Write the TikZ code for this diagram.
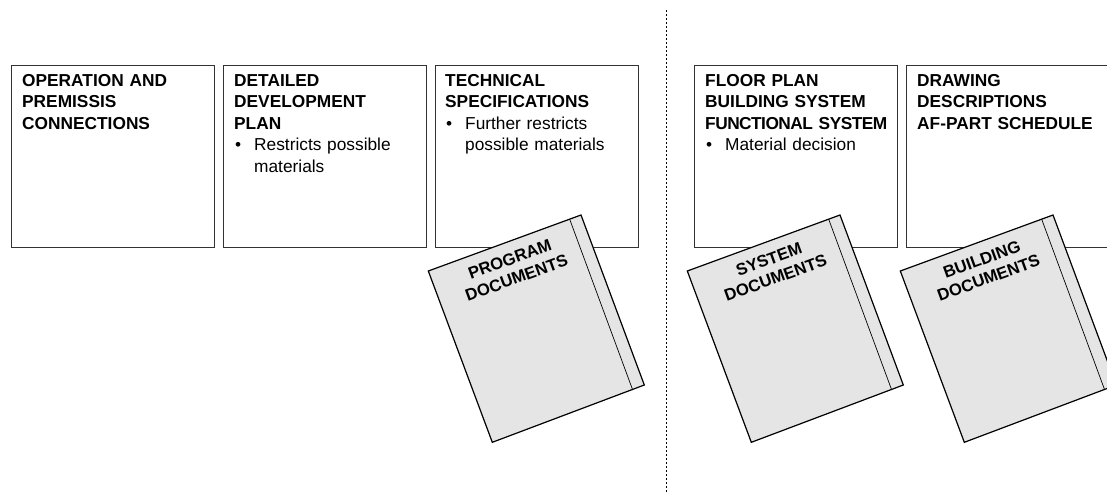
\documentclass[tikz,border=0pt]{standalone}
\usepackage{fontspec}
\setmainfont{Liberation Sans}
\tikzset{
  x=1pt,y=-1pt,
  panel/.style={draw=black!80,line width=1.3pt,fill=white,minimum width=203pt,minimum height=182pt,anchor=north west,inner sep=0pt},
  paneltext/.style={anchor=north west,inner sep=0pt,align=left,font=\fontsize{17.3}{21.5}\selectfont},
  booklabel/.style={rotate=20,align=center,inner sep=0pt,font=\bfseries\fontsize{16.7}{19.6}\selectfont},
  bookcover/.style={draw=black,line width=1.2pt,fill=black!10,line join=miter},
  bookspine/.style={draw=black,line width=.7pt},
}
\newcommand{\bul}[1]{\par\noindent\makebox[20pt][l]{\hspace{1pt}•}\parbox[t]{170pt}{#1}}
\newcommand{\bookat}[3]{%
  \begin{scope}[shift={(#1,0)}]
    \path[bookcover] (428.3,271) -- (581,215) -- (644.3,385) -- (492.3,442.3) -- cycle;
    \draw[bookspine] (569.7,219.3) -- (632.7,390);
    \node[booklabel] (#2) at (513.2,268.6) {#3};
  \end{scope}}
\begin{document}
\begin{tikzpicture}
\clip (0,0) rectangle (1107,493);
\node[panel] (p1) at (11,65) {};
\node[panel] (p2) at (223,65) {};
\node[panel] (p3) at (434.7,65) {};
\node[panel] (p4) at (694,65) {};
\node[panel] (p5) at (906,65) {};
\node[paneltext,text width=190pt] (t1) at (22,74) {\textbf{OPERATION AND\\PREMISSIS\\CONNECTIONS}};
\node[paneltext,text width=190pt] (t2) at (234,74) {\textbf{DETAILED\\DEVELOPMENT\\PLAN}\bul{Restricts possible\\materials}};
\node[paneltext,text width=190pt] (t3) at (445,74) {\textbf{TECHNICAL\\SPECIFICATIONS}\bul{Further restricts\\possible materials}};
\node[paneltext,text width=195pt] (t4) at (705,74) {\textbf{FLOOR PLAN\\BUILDING SYSTEM\\{\addfontfeature{LetterSpace=-3}FUNCTIONAL SYSTEM}}\bul{Material decision}};
\node[paneltext,text width=195pt] (t5) at (917,74) {\textbf{DRAWING\\DESCRIPTIONS\\AF-PART SCHEDULE}};
\bookat{0}{b1}{PROGRAM\\DOCUMENTS}
\bookat{259}{b2}{SYSTEM\\DOCUMENTS}
\bookat{472}{b3}{BUILDING\\DOCUMENTS}
\coordinate (dtop) at (666.5,10);
\coordinate (dbot) at (666.5,493);
\draw[black,line width=.7pt,dash pattern=on 2pt off 2pt] (dtop) -- (dbot);
\end{tikzpicture}
\end{document}
